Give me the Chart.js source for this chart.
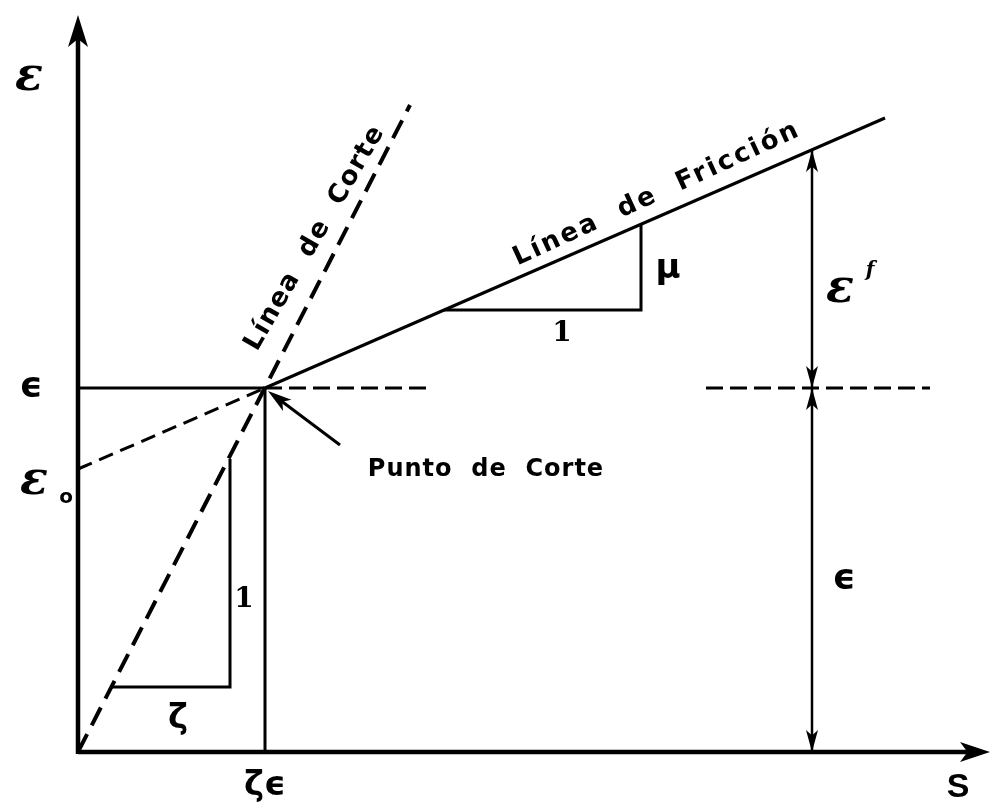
<!DOCTYPE html>
<html>
<head>
<meta charset="utf-8">
<script src="https://cdn.jsdelivr.net/npm/chart.js@4.4.1/dist/chart.umd.min.js"></script>
<style>
  html, body { margin: 0; padding: 0; background: #fff; }
  #wrap { width: 998px; height: 807px; }
</style>
</head>
<body>
<div id="wrap"><canvas id="diagram"></canvas></div>
<script>
// values: S along x, epsilon along y (arbitrary units)
const axisMax = [91.2, 73.7];
const cutPoint = [18.7, 36.4];
const cutLineX = [0, 33.2];
const cutLineY = [0, 64.7];
const frictionLineX = [18.7, 80.7];
const frictionLineY = [36.4, 63.4];
const frictionExtX = [0, 18.7];
const frictionExtY = [28.3, 36.4];
const epsSolidX = [0, 18.7];
const epsDashX = [18.7, 35.0];
const epsDashRightX = [62.8, 85.2];
const zetaTriX = [3.4, 15.2, 15.2];
const zetaTriY = [6.5, 6.5, 29.3];
const muTriX = [36.6, 56.3, 56.3];
const muTriY = [44.2, 44.2, 52.8];
const dimX = 73.4;
const dimY = [0, 36.4, 60.2];
const pointerFrom = [26.2, 30.7];

const zip = (xs, ys) => xs.map((x, i) => ({x: x, y: ys[i]}));
const flat = (xs, y) => xs.map(x => ({x: x, y: y}));

const line = (data, width, dash) => ({
  data: data,
  showLine: true,
  borderColor: '#000',
  borderWidth: width,
  borderDash: dash || [],
  pointRadius: 0,
  fill: false,
  tension: 0
});

const datasets = [
  line(zip(cutLineX, cutLineY), 4, [20, 10]),
  line(zip(frictionLineX, frictionLineY), 3),
  line(zip(frictionExtX, frictionExtY), 3, [15, 8]),
  line(flat(epsSolidX, cutPoint[1]), 3),
  line(flat(epsDashX, cutPoint[1]), 3, [17, 7]),
  line(flat(epsDashRightX, cutPoint[1]), 3, [17, 7]),
  line([{x: cutPoint[0], y: 0}, {x: cutPoint[0], y: cutPoint[1]}], 3),
  line(zip(zetaTriX, zetaTriY), 3),
  line(zip(muTriX, muTriY), 3),
  line(dimY.map(y => ({x: dimX, y: y})), 2.5)
];

const arrowHead = (ctx, tx, ty, angle, len, half) => {
  ctx.save();
  ctx.translate(tx, ty);
  ctx.rotate(angle);
  ctx.beginPath();
  ctx.moveTo(0, 0);
  ctx.lineTo(-len, -half);
  ctx.lineTo(-len * 0.75, 0);
  ctx.lineTo(-len, half);
  ctx.closePath();
  ctx.fill();
  ctx.restore();
};

const drawText = (ctx, text, px, py, font, angle, spacing) => {
  ctx.save();
  ctx.translate(px, py);
  if (angle) ctx.rotate(angle);
  ctx.font = font;
  ctx.letterSpacing = spacing || '0px';
  ctx.textAlign = 'center';
  ctx.textBaseline = 'middle';
  ctx.fillText(text, 0, 0);
  ctx.restore();
};

const diagramPlugin = {
  id: 'diagram',
  afterDatasetsDraw(chart) {
    const ctx = chart.ctx;
    const sx = chart.scales.x, sy = chart.scales.y;
    const X = v => sx.getPixelForValue(v);
    const Y = v => sy.getPixelForValue(v);
    ctx.save();
    ctx.fillStyle = '#000';
    ctx.strokeStyle = '#000';
    ctx.lineCap = 'butt';

    // axes with arrows
    ctx.lineWidth = 4.5;
    ctx.beginPath();
    ctx.moveTo(X(0), Y(0));
    ctx.lineTo(X(axisMax[0]) - 10, Y(0));
    ctx.moveTo(X(0), Y(0) + 2);
    ctx.lineTo(X(0), Y(axisMax[1]) + 10);
    ctx.stroke();
    arrowHead(ctx, X(axisMax[0]), Y(0), 0, 30, 10);
    arrowHead(ctx, X(0), Y(axisMax[1]), -Math.PI / 2, 32, 10);

    // dimension arrows
    const dx = X(dimX);
    arrowHead(ctx, dx, Y(dimY[2]), -Math.PI / 2, 22, 6);
    arrowHead(ctx, dx, Y(dimY[1]), Math.PI / 2, 22, 6);
    arrowHead(ctx, dx, Y(dimY[1]), -Math.PI / 2, 22, 6);
    arrowHead(ctx, dx, Y(dimY[0]), Math.PI / 2, 22, 6);

    // pointer to the cut point
    const fx = X(pointerFrom[0]), fy = Y(pointerFrom[1]);
    const tx = X(cutPoint[0]) + 3, ty = Y(cutPoint[1]) + 3;
    ctx.lineWidth = 3;
    ctx.beginPath();
    ctx.moveTo(fx, fy);
    ctx.lineTo(tx + 12, ty + 9);
    ctx.stroke();
    arrowHead(ctx, tx, ty, Math.atan2(ty - fy, tx - fx), 24, 7);

    // texts
    const sans = 'bold 26px "DejaVu Sans", sans-serif';
    const cutAngle = Math.atan2(Y(cutLineY[1]) - Y(cutLineY[0]), X(cutLineX[1]) - X(cutLineX[0]));
    const friAngle = Math.atan2(Y(frictionLineY[1]) - Y(frictionLineY[0]), X(frictionLineX[1]) - X(frictionLineX[0]));
    drawText(ctx, 'Línea  de  Corte', X(23.7), Y(51.4), sans, cutAngle + 0.05, '1.5px');
    drawText(ctx, 'Línea  de  Fricción', X(57.9), Y(55.8), sans, friAngle - 0.02, '2.5px');
    drawText(ctx, 'Punto  de  Corte', X(40.8), Y(28.2), 'bold 24px "DejaVu Sans", sans-serif', 0, '1px');

    const script = 'bold italic 46px "DejaVu Serif", serif';
    const eps = 'bold 36px "DejaVu Sans", sans-serif';
    drawText(ctx, 'ε', X(-4.9), Y(67.4), script);
    drawText(ctx, 'ϵ', X(-4.7), Y(cutPoint[1]), eps);
    drawText(ctx, 'ε', X(-4.4), Y(27.0), script);
    drawText(ctx, 'o', X(-1.2), Y(25.4), 'bold 20px "DejaVu Sans", sans-serif');
    drawText(ctx, 'ε', X(76.2), Y(46.2), script);
    drawText(ctx, 'f', X(79.2), Y(48.1), 'bold italic 20px "DejaVu Serif", serif');
    drawText(ctx, 'ϵ', X(76.6), Y(17.2), eps);
    drawText(ctx, 'μ', X(59.0), Y(48.3), 'bold 34px "DejaVu Sans", sans-serif');
    drawText(ctx, '1', X(48.4), Y(41.8), 'bold 28px "DejaVu Serif", serif');
    drawText(ctx, '1', X(16.6), Y(15.2), 'bold 28px "DejaVu Serif", serif');
    drawText(ctx, 'ζ', X(10.0), Y(3.3), 'bold 34px "DejaVu Sans", sans-serif');
    drawText(ctx, 'ζϵ', X(cutPoint[0]), Y(-3.4), 'bold 34px "DejaVu Sans", sans-serif');
    drawText(ctx, 'S', X(88.0), Y(-3.6), 'bold 34px "Liberation Sans", Arial, sans-serif');
    ctx.restore();
  }
};

new Chart(document.getElementById('diagram'), {
  type: 'scatter',
  data: { datasets: datasets },
  options: {
    responsive: true,
    maintainAspectRatio: false,
    animation: false,
    devicePixelRatio: 1,
    layout: { padding: { left: 78, right: 8, top: 15, bottom: 55 } },
    plugins: {
      legend: { display: false },
      tooltip: { enabled: false }
    },
    scales: {
      x: { type: 'linear', display: false, min: 0, max: axisMax[0] },
      y: { type: 'linear', display: false, min: 0, max: axisMax[1] }
    }
  },
  plugins: [diagramPlugin]
});
</script>
</body>
</html>
